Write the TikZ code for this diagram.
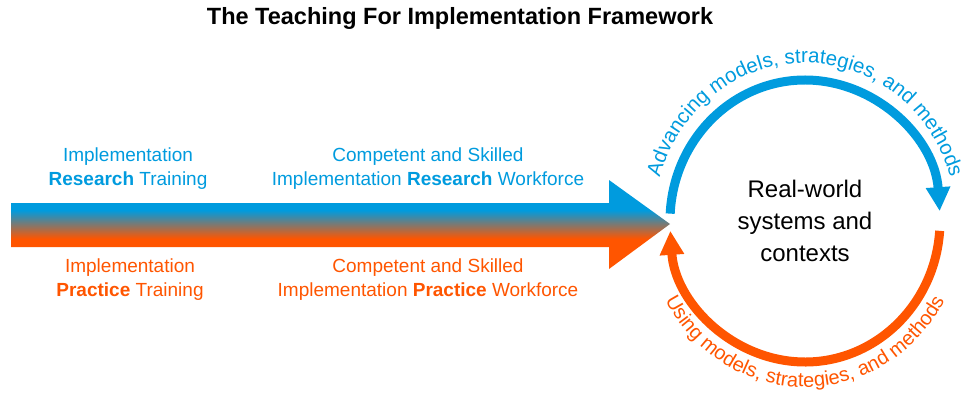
\documentclass[tikz,border=0pt]{standalone}
\usepackage{fontspec}
\setmainfont{Liberation Sans}
\usetikzlibrary{arrows.meta,decorations.text}

\definecolor{ifblue}{RGB}{0,155,222}
\definecolor{iforange}{RGB}{255,85,0}
\pgfdeclareverticalshading{bandshade}{100bp}{color(0bp)=(iforange); color(42bp)=(iforange); color(58bp)=(ifblue); color(100bp)=(ifblue)}

\begin{document}
\begin{tikzpicture}[x=1pt, y=1pt,
  blurb/.style = {align=center, font=\fontsize{19}{24}\selectfont},
  research/.style = {blurb, text=ifblue},
  practice/.style = {blurb, text=iforange},
  cyclearrow/.style = {line width=9pt, -{Triangle[width=23pt,length=24pt]}}]
  \useasboundingbox (0,0) rectangle (967,400);
  \node[font=\bfseries\fontsize{23.5}{24}\selectfont] (title) at (460,382)
    {The Teaching For Implementation Framework};

  % broad two-colour arrow
  \shade[shading=bandshade] (11,153) -- (609,153) -- (609,131) -- (670,176)
    -- (609,220) -- (609,197) -- (11,197) -- cycle;

  \node[research] (restrain) at (128,231) {Implementation\\\textbf{Research} Training};
  \node[research] (resforce) at (428,231) {Competent and Skilled\\Implementation \textbf{Research} Workforce};
  \node[practice] (practrain) at (130,120) {Implementation\\\textbf{Practice} Training};
  \node[practice] (pracforce) at (428,120) {Competent and Skilled\\Implementation \textbf{Practice} Workforce};

  % the cycle
  \node[align=center, font=\fontsize{24}{32}\selectfont] (world) at (805,179)
    {Real-world\\systems and\\contexts};
  \draw[cyclearrow, ifblue] ([shift={(177:135pt and 141pt)}]world.center)
    arc[start angle=177, end angle=4, x radius=135pt, y radius=141pt];
  \draw[cyclearrow, iforange] ([shift={(-4:135pt and 141pt)}]world.center)
    arc[start angle=-4, end angle=-176, x radius=135pt, y radius=141pt];

  \path[decorate, decoration={text along path, text align=center,
      text={|\color{ifblue}\fontsize{20.5}{20}\selectfont|Advancing models, strategies, and methods}}]
    ([shift={(172:151pt and 158pt)}]world.center)
    arc[start angle=172, end angle=8, x radius=151pt, y radius=158pt];
  \path[decorate, decoration={text along path, text align=center,
      text={|\color{iforange}\fontsize{20}{20}\selectfont|Using models, strategies, and methods}}]
    ([shift={(190:159pt and 166pt)}]world.center)
    arc[start angle=190, end angle=350, x radius=159pt, y radius=166pt];
\end{tikzpicture}
\end{document}
